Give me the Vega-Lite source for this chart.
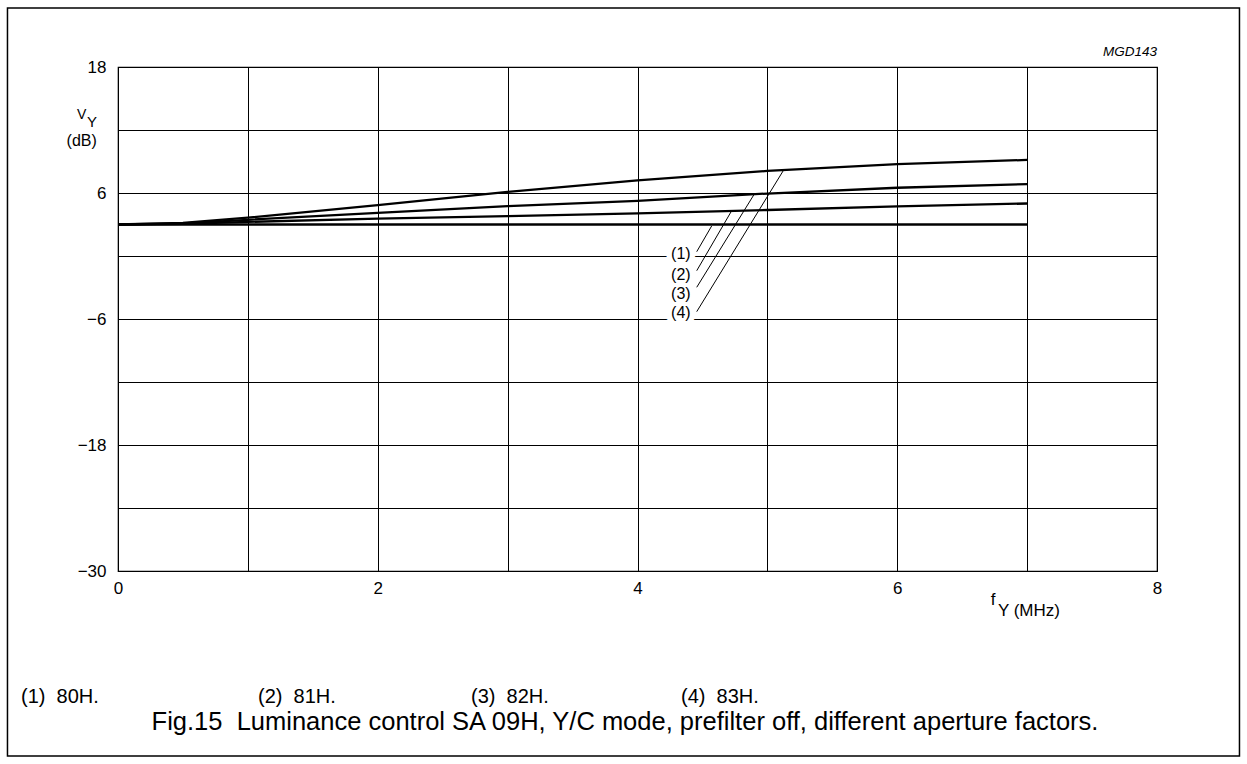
{
  "$schema": "https://vega.github.io/schema/vega-lite/v6.json",
  "width": 1039,
  "height": 504,
  "autosize": {"type": "none"},
  "padding": {"left": 118, "top": 67, "right": 90, "bottom": 193},
  "background": "white",
  "config": {
    "font": "Liberation Sans",
    "view": {"stroke": "#000", "strokeWidth": 1.2},
    "axis": {
      "grid": true, "gridColor": "#000", "gridOpacity": 1, "gridWidth": 1,
      "domain": false, "ticks": false, "labelColor": "#000",
      "labelFont": "Liberation Sans", "labelFontSize": 17, "title": null
    },
    "text": {"font": "Liberation Sans", "color": "#000"}
  },
  "datasets": {
    "curves": [
      {"s": "80H", "f": 0, "v": 3.0}, {"s": "80H", "f": 1, "v": 3.0}, {"s": "80H", "f": 2, "v": 3.0}, {"s": "80H", "f": 3, "v": 3.0},
      {"s": "80H", "f": 4, "v": 3.0}, {"s": "80H", "f": 5, "v": 3.0}, {"s": "80H", "f": 6, "v": 3.0}, {"s": "80H", "f": 7, "v": 3.0},
      {"s": "81H", "f": 0, "v": 3.0}, {"s": "81H", "f": 0.5, "v": 3.05}, {"s": "81H", "f": 1, "v": 3.25}, {"s": "81H", "f": 2, "v": 3.55},
      {"s": "81H", "f": 3, "v": 3.8}, {"s": "81H", "f": 4, "v": 4.05}, {"s": "81H", "f": 5, "v": 4.38}, {"s": "81H", "f": 6, "v": 4.72}, {"s": "81H", "f": 7, "v": 5.0},
      {"s": "82H", "f": 0, "v": 3.0}, {"s": "82H", "f": 0.5, "v": 3.1}, {"s": "82H", "f": 1, "v": 3.45}, {"s": "82H", "f": 2, "v": 4.1},
      {"s": "82H", "f": 3, "v": 4.75}, {"s": "82H", "f": 4, "v": 5.25}, {"s": "82H", "f": 5, "v": 5.95}, {"s": "82H", "f": 6, "v": 6.5}, {"s": "82H", "f": 7, "v": 6.85},
      {"s": "83H", "f": 0, "v": 3.0}, {"s": "83H", "f": 0.5, "v": 3.15}, {"s": "83H", "f": 1, "v": 3.65}, {"s": "83H", "f": 2, "v": 4.85},
      {"s": "83H", "f": 3, "v": 6.1}, {"s": "83H", "f": 4, "v": 7.2}, {"s": "83H", "f": 5, "v": 8.1}, {"s": "83H", "f": 6, "v": 8.75}, {"s": "83H", "f": 7, "v": 9.15}
    ],
    "labels": [
      {"lab": "(1)", "x": 4.334, "y": 0.19},
      {"lab": "(2)", "x": 4.334, "y": -1.81},
      {"lab": "(3)", "x": 4.334, "y": -3.62},
      {"lab": "(4)", "x": 4.334, "y": -5.43}
    ],
    "leaders": [
      {"x": 4.456, "y": 0.41, "x2": 4.571, "y2": 2.86},
      {"x": 4.456, "y": -1.4, "x2": 4.725, "y2": 4.31},
      {"x": 4.456, "y": -2.98, "x2": 4.895, "y2": 5.81},
      {"x": 4.456, "y": -5.3, "x2": 5.122, "y2": 8.12}
    ],
    "notes": [
      {"t": "(1)\u00a0\u00a080H.", "x": -0.747, "y": -42},
      {"t": "(2)\u00a0\u00a081H.", "x": 1.078, "y": -42},
      {"t": "(3)\u00a0\u00a082H.", "x": 2.718, "y": -42},
      {"t": "(4)\u00a0\u00a083H.", "x": 4.335, "y": -42}
    ]
  },
  "layer": [
    {
      "data": {"values": [{}]},
      "mark": {"type": "rect", "fill": null, "fillOpacity": 0, "stroke": "#000", "strokeWidth": 1.5},
      "encoding": {
        "x": {"datum": -0.851, "type": "quantitative", "scale": {"domain": [0, 8], "nice": false, "zero": false},
              "axis": {"values": [0, 1, 2, 3, 4, 5, 6, 7, 8], "format": "d", "labelExpr": "datum.value % 2 === 0 ? datum.label : ''", "labelPadding": 9, "labelFlush": false}},
        "x2": {"datum": 8.635},
        "y": {"datum": 23.62, "type": "quantitative", "scale": {"domain": [-30, 18], "nice": false, "zero": false},
              "axis": {"values": [-30, -27, -24, -21, -18, -15, -12, -9, -6, -3, 0, 3, 6, 9, 12, 15, 18], "format": "d", "labelExpr": "abs(datum.value) % 12 === 6 ? datum.label : ''", "labelPadding": 12}},
        "y2": {"datum": -47.62}
      }
    },
    {
      "data": {"name": "curves"},
      "mark": {"type": "line", "color": "#000", "strokeWidth": 2.3},
      "encoding": {
        "x": {"field": "f", "type": "quantitative", "scale": {"domain": [0, 8], "nice": false, "zero": false}},
        "y": {"field": "v", "type": "quantitative", "scale": {"domain": [-30, 18], "nice": false, "zero": false}},
        "detail": {"field": "s"}
      }
    },
    {
      "data": {"name": "labels"},
      "mark": {"type": "text", "fontSize": 16, "align": "center", "baseline": "middle", "stroke": "white", "strokeWidth": 11, "color": "white"},
      "encoding": {
        "x": {"field": "x", "type": "quantitative", "scale": {"domain": [0, 8], "nice": false, "zero": false}},
        "y": {"field": "y", "type": "quantitative", "scale": {"domain": [-30, 18], "nice": false, "zero": false}},
        "text": {"field": "lab"}
      }
    },
    {
      "data": {"name": "leaders"},
      "mark": {"type": "rule", "color": "#000", "strokeWidth": 1},
      "encoding": {
        "x": {"field": "x", "type": "quantitative", "scale": {"domain": [0, 8], "nice": false, "zero": false}},
        "y": {"field": "y", "type": "quantitative", "scale": {"domain": [-30, 18], "nice": false, "zero": false}},
        "x2": {"field": "x2"},
        "y2": {"field": "y2"}
      }
    },
    {
      "data": {"name": "labels"},
      "mark": {"type": "text", "fontSize": 16, "align": "center", "baseline": "middle", "color": "#000"},
      "encoding": {
        "x": {"field": "x", "type": "quantitative", "scale": {"domain": [0, 8], "nice": false, "zero": false}},
        "y": {"field": "y", "type": "quantitative", "scale": {"domain": [-30, 18], "nice": false, "zero": false}},
        "text": {"field": "lab"}
      }
    },
    {
      "data": {"name": "notes"},
      "mark": {"type": "text", "fontSize": 20, "align": "left", "baseline": "middle", "color": "#000"},
      "encoding": {
        "x": {"field": "x", "type": "quantitative", "scale": {"domain": [0, 8], "nice": false, "zero": false}},
        "y": {"field": "y", "type": "quantitative", "scale": {"domain": [-30, 18], "nice": false, "zero": false}},
        "text": {"field": "t"}
      }
    },
    {
      "data": {"values": [{"t": "Fig.15\u00a0\u00a0Luminance control SA 09H, Y/C mode, prefilter off, different aperture factors."}]},
      "mark": {"type": "text", "fontSize": 25.5, "align": "center", "baseline": "middle", "color": "#000"},
      "encoding": {
        "x": {"datum": 3.904, "type": "quantitative", "scale": {"domain": [0, 8], "nice": false, "zero": false}},
        "y": {"datum": -44.38, "type": "quantitative", "scale": {"domain": [-30, 18], "nice": false, "zero": false}},
        "text": {"field": "t"}
      }
    },
    {
      "data": {"values": [{"t": "MGD143"}]},
      "mark": {"type": "text", "fontSize": 13.5, "fontStyle": "italic", "align": "right", "baseline": "middle", "color": "#000"},
      "encoding": {
        "x": {"datum": 8.0, "type": "quantitative", "scale": {"domain": [0, 8], "nice": false, "zero": false}},
        "y": {"datum": 19.43, "type": "quantitative", "scale": {"domain": [-30, 18], "nice": false, "zero": false}},
        "text": {"field": "t"}
      }
    },
    {
      "data": {"values": [{"t": "f"}]},
      "mark": {"type": "text", "fontSize": 17, "align": "left", "baseline": "middle", "color": "#000"},
      "encoding": {
        "x": {"datum": 6.72, "type": "quantitative", "scale": {"domain": [0, 8], "nice": false, "zero": false}},
        "y": {"datum": -32.76, "type": "quantitative", "scale": {"domain": [-30, 18], "nice": false, "zero": false}},
        "text": {"field": "t"}
      }
    },
    {
      "data": {"values": [{"t": "Y (MHz)"}]},
      "mark": {"type": "text", "fontSize": 17, "align": "left", "baseline": "middle", "color": "#000"},
      "encoding": {
        "x": {"datum": 6.775, "type": "quantitative", "scale": {"domain": [0, 8], "nice": false, "zero": false}},
        "y": {"datum": -33.81, "type": "quantitative", "scale": {"domain": [-30, 18], "nice": false, "zero": false}},
        "text": {"field": "t"}
      }
    },
    {
      "data": {"values": [{"t": "V"}]},
      "mark": {"type": "text", "fontSize": 14, "align": "left", "baseline": "middle", "color": "#000"},
      "encoding": {
        "x": {"datum": -0.315, "type": "quantitative", "scale": {"domain": [0, 8], "nice": false, "zero": false}},
        "y": {"datum": 13.43, "type": "quantitative", "scale": {"domain": [-30, 18], "nice": false, "zero": false}},
        "text": {"field": "t"}
      }
    },
    {
      "data": {"values": [{"t": "Y"}]},
      "mark": {"type": "text", "fontSize": 15, "align": "left", "baseline": "middle", "color": "#000"},
      "encoding": {
        "x": {"datum": -0.238, "type": "quantitative", "scale": {"domain": [0, 8], "nice": false, "zero": false}},
        "y": {"datum": 12.75, "type": "quantitative", "scale": {"domain": [-30, 18], "nice": false, "zero": false}},
        "text": {"field": "t"}
      }
    },
    {
      "data": {"values": [{"t": "(dB)"}]},
      "mark": {"type": "text", "fontSize": 16, "align": "center", "baseline": "middle", "color": "#000"},
      "encoding": {
        "x": {"datum": -0.2795, "type": "quantitative", "scale": {"domain": [0, 8], "nice": false, "zero": false}},
        "y": {"datum": 10.95, "type": "quantitative", "scale": {"domain": [-30, 18], "nice": false, "zero": false}},
        "text": {"field": "t"}
      }
    }
  ]
}
